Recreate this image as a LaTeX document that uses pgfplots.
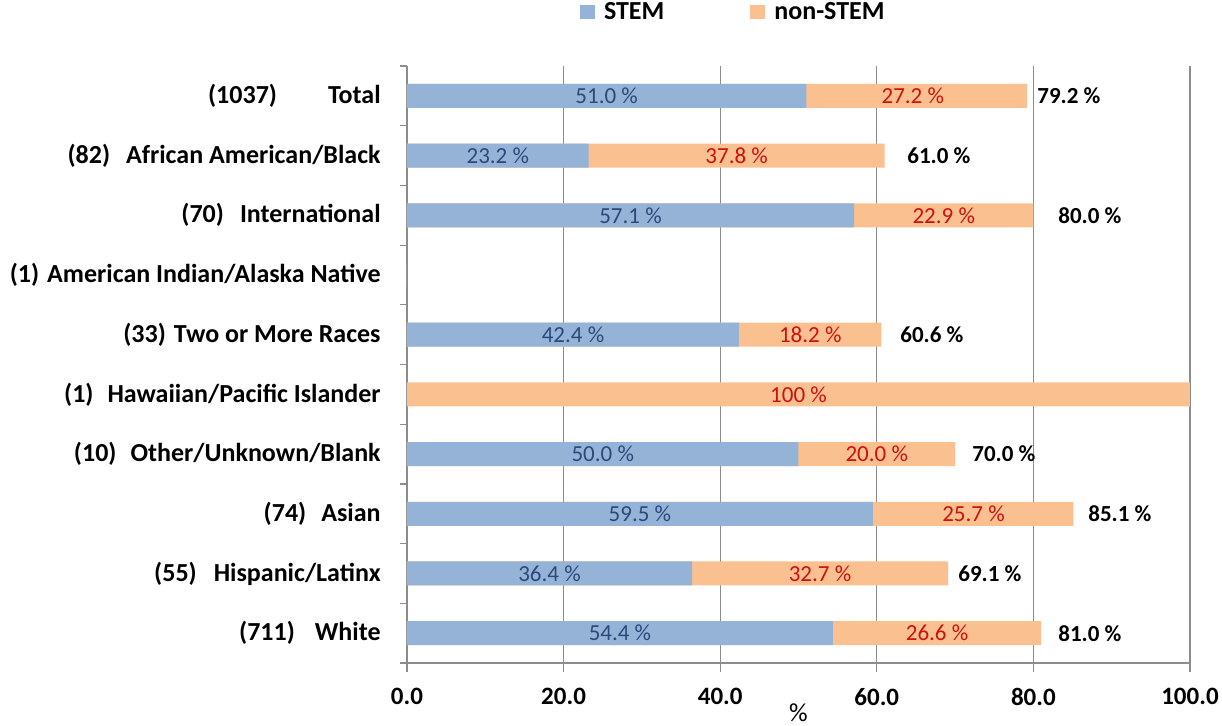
\documentclass[border=0pt]{standalone}
\usepackage{fontspec}
\setmainfont{Carlito}
\usepackage{pgfplots}
\usepackage{pgfplotstable}
\pgfplotsset{compat=1.18}
\definecolor{stemblue}{HTML}{95B3D7}
\definecolor{nonorange}{HTML}{FAC090}
\definecolor{stemtext}{HTML}{2A4A7C}
\definecolor{nontext}{HTML}{CC1111}
\definecolor{gridgray}{HTML}{8C8C8C}

% y: 9 = Total (top) ... 0 = White (bottom); tx = x position of the total label
\pgfplotstableread{
y stem non tot tx
9 51.0 27.2 79.2 80.46
8 23.2 37.8 61.0 63.86
7 57.1 22.9 80.0 83.14
6 0 0 0 nan
5 42.4 18.2 60.6 62.96
4 0 100 100 nan
3 50.0 20.0 70.0 72.16
2 59.5 25.7 85.1 86.97
1 36.4 32.7 69.1 70.37
0 54.4 26.6 81.0 83.14
}\data

\begin{document}
\begin{tikzpicture}
\begin{axis}[
  scale only axis,
  width=391.5pt, height=298.5pt,
  xmin=0, xmax=100, ymin=-0.5, ymax=9.5,
  axis x line*=bottom, axis y line*=left,
  axis line style={draw=gridgray, line width=0.6pt},
  xtick={0,20,...,100},
  xmajorgrids,
  grid style={draw=gridgray, line width=0.6pt},
  tick align=outside,
  major tick length=4.5pt,
  minor tick length=3.5pt,
  tick style={draw=gridgray, line width=0.6pt},
  major y tick style={draw=none},
  ytick={0,...,9},
  minor ytick={-0.5,0.5,...,9.5},
  yticklabels={
    {(711)\hspace{10pt}White},
    {(55)\hspace{8.5pt}Hispanic/Latinx},
    {(74)\hspace{7.5pt}Asian},
    {(10)\hspace{7pt}Other/Unknown/Blank},
    {(1)\hspace{7pt}Hawaiian/Pacific Islander},
    {(33)\hspace{4pt}Two or More Races},
    {(1)\hspace{4pt}American Indian/Alaska Native},
    {(70)\hspace{8pt}International},
    {(82)\hspace{8pt}African American/Black},
    {(1037)\hspace{25.5pt}Total}},
  yticklabel style={font=\fontsize{13}{15}\selectfont\bfseries, inner sep=0pt, xshift=-8.5pt},
  xticklabel style={font=\fontsize{12.5}{15}\selectfont\bfseries, yshift=-4.5pt},
  /pgf/number format/.cd, fixed, fixed zerofill, precision=1, assume math mode=true,
  /pgfplots/.cd,
  xlabel={\%},
  xlabel style={at={(axis description cs:0.5,0)}, anchor=north, inner sep=0pt,
    yshift=-20pt, font=\fontsize{13}{15}\selectfont},
  legend style={at={(0.418,1.0905)}, anchor=center, draw=none, fill=none,
    font=\fontsize{13}{15}\selectfont\bfseries, legend columns=2,
    /tikz/every even column/.append style={column sep=41pt}},
  legend image code/.code={\fill[#1, draw=none] (0pt,-3.5pt) rectangle (7.5pt,3.5pt);
    \path[draw=none, fill=none] (0pt,0pt) -- (10pt,0pt);},
  clip=false,
]
% bars: orange (total length) drawn first, blue STEM on top
\addplot[xbar, bar width=12pt, bar shift=0pt, fill=nonorange, draw=none, forget plot]
  table[x=tot, y=y] {\data};
\addplot[xbar, bar width=12pt, bar shift=0pt, fill=stemblue, draw=none, forget plot]
  table[x=stem, y=y] {\data};
\addlegendimage{fill=stemblue, draw=none}
\addlegendentry{STEM}
\addlegendimage{fill=nonorange, draw=none}
\addlegendentry{non-STEM}
% STEM labels
\addplot[draw=none, mark=none, forget plot, restrict x to domain=0.01:200,
  point meta=explicit symbolic,
  nodes near coords={\pgfplotspointmeta~\%},
  every node near coord/.append style={anchor=center, inner sep=0pt, text=stemtext,
    font=\fontsize{11.5}{14}\selectfont}]
  table[x expr=\thisrow{stem}/2, y=y, meta=stem] {\data};
% non-STEM labels
\addplot[draw=none, mark=none, forget plot, restrict x to domain=0.01:200,
  point meta=explicit symbolic,
  nodes near coords={\pgfplotspointmeta~\%},
  every node near coord/.append style={anchor=center, inner sep=0pt, text=nontext,
    font=\fontsize{11.5}{14}\selectfont}]
  table[x expr=\thisrow{stem}+\thisrow{non}/2, y=y, meta=non] {\data};
% total labels
\addplot[draw=none, mark=none, forget plot,
  point meta=explicit symbolic,
  nodes near coords={\pgfplotspointmeta~\%},
  every node near coord/.append style={anchor=west, inner sep=0pt, text=black,
    font=\fontsize{11.5}{14}\selectfont\bfseries}]
  table[x=tx, y=y, meta=tot] {\data};
\end{axis}
\pgfresetboundingbox
\path[use as bounding box] (-203.5pt,-31pt) rectangle (407.5pt,331.5pt);
\end{tikzpicture}
\end{document}
